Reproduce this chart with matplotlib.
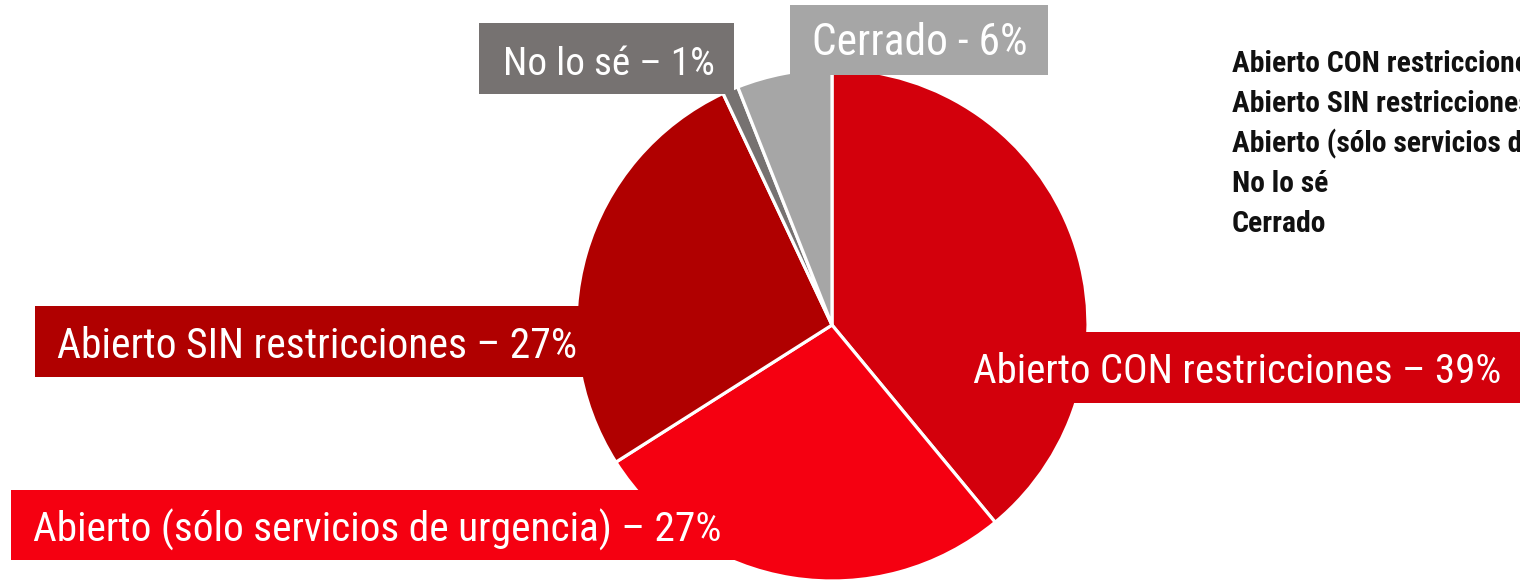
import matplotlib
matplotlib.use("Agg")
import matplotlib.pyplot as plt
from matplotlib import font_manager
from matplotlib.patches import Rectangle

# ---------------------------------------------------------------
# data
categories = ["Abierto CON restricciones",
              "Abierto (sólo servicios de urgencia)",
              "Abierto SIN restricciones",
              "No lo sé",
              "Cerrado"]
values = [39, 27, 27, 1, 6]
colors = ["#d3000c", "#f50011", "#b00000", "#767271", "#a6a6a6"]
label_texts = ["Abierto CON restricciones – 39%",
               "Abierto (sólo servicios de urgencia) – 27%",
               "Abierto SIN restricciones – 27%",
               "No lo sé – 1%",
               "Cerrado - 6%"]
legend_order = [0, 2, 1, 3, 4]

# ---------------------------------------------------------------
# font: want something narrow, like the DIN in the original
fonts = font_manager.fontManager.ttflist
names = {f.name for f in fonts}
stretch = "normal"
if "Roboto Condensed" in names:
    fam = "Roboto Condensed"
elif "Liberation Sans Narrow" in names:
    fam = "Liberation Sans Narrow"
elif any(f.name == "DejaVu Sans" and f.stretch == "condensed" for f in fonts):
    fam, stretch = "DejaVu Sans", "condensed"
else:
    fam = "Roboto"
plt.rcParams['font.family'] = [fam, 'DejaVu Sans']
plt.rcParams['font.stretch'] = stretch

W, H = 1520, 580
fig = plt.figure(figsize=(W / 100, H / 100), dpi=100)
rend = fig.canvas.get_renderer()

def fit(t, width_px):
    # shrink/grow font until the text is as wide as in the original
    for _ in range(3):
        w = t.get_window_extent(rend).width
        t.set_fontsize(t.get_fontsize() * width_px / w)

# pie: centre (832, 325) px, radius 256 px
cx, cy, r = 832, 325, 256
ax = fig.add_axes([(cx - r) / W, (H - cy - r) / H, 2 * r / W, 2 * r / H])
wedges, _ = ax.pie(values, colors=colors, startangle=90, counterclock=False,
                   radius=1, wedgeprops=dict(edgecolor="white", linewidth=2.3))
ax.set_xlim(-1, 1)
ax.set_ylim(-1, 1)
ax.set_aspect("equal")
ax.axis("off")

# label boxes in px: left, top, right, bottom, text x, baseline, text width
boxes = [(960, 332, 1530, 403, 973, 383, 527),
         (11, 490, 745, 560, 33, 542, 690),
         (35, 306, 590, 377, 57, 358, 518),
         (479, 23, 734, 94, 503, 75, 212),
         (790, 5, 1048, 75, 812, 55, 216)]

for i, (l, t, rr, b, tx, base, tw) in enumerate(boxes):
    fig.patches.append(Rectangle((l / W, 1 - b / H), (rr - l) / W, (b - t) / H,
                                 transform=fig.transFigure, facecolor=colors[i],
                                 edgecolor="none", zorder=5))
    txt = fig.text(tx / W, 1 - base / H, label_texts[i], color="white",
                   fontsize=30, ha="left", va="baseline", zorder=6)
    fit(txt, tw)

# legend (no swatches, just the names)
leg = []
for k, idx in enumerate(legend_order):
    leg.append(fig.text(1232 / W, 1 - (72 + 40 * k) / H, categories[idx],
                        color="#111111", fontsize=17, fontweight="bold",
                        ha="left", va="baseline"))
fit(leg[3], 96)
for t in leg:
    t.set_fontsize(leg[3].get_fontsize())

fig.savefig("out.png", dpi=100, facecolor="white")
